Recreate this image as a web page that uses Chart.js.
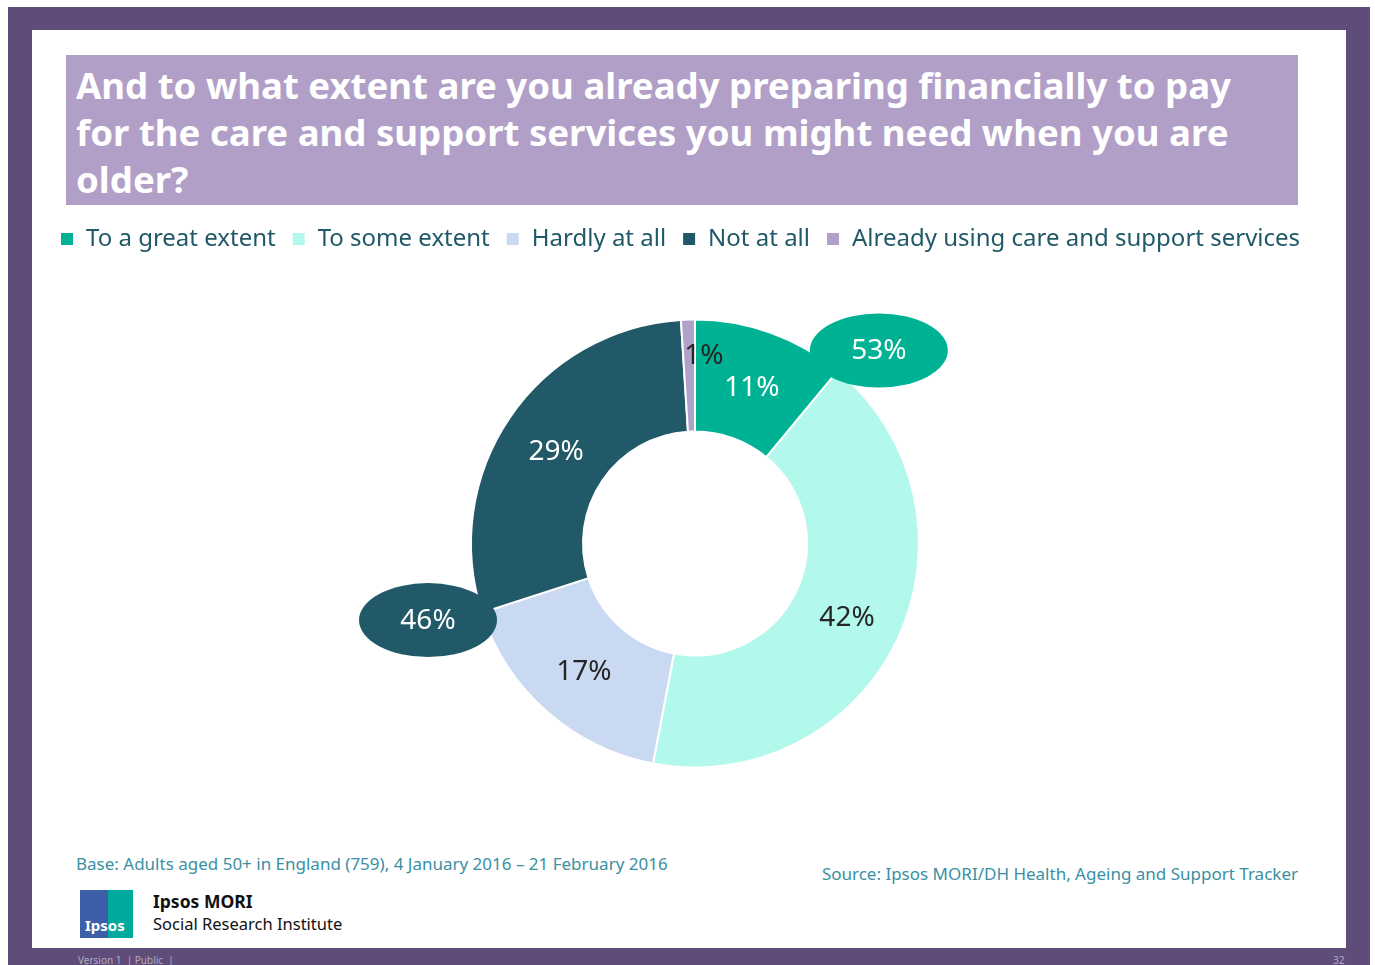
<!DOCTYPE html>
<html>
<head>
<meta charset="utf-8">
<script src="https://cdn.jsdelivr.net/npm/chart.js@4"></script>
<style>
  html, body { margin: 0; padding: 0; background: #fff; }
  body { width: 1375px; height: 965px; position: relative; overflow: hidden; font-family: "Noto Sans", "Open Sans", sans-serif; }
  #frame { position: absolute; left: 8px; top: 7px; width: 1362px; height: 958px; background: #604c78; }
  #page { position: absolute; left: 32px; top: 30px; width: 1314px; height: 918px; background: #fff; }
  #title { position: absolute; left: 66px; top: 55px; width: 1232px; height: 150px; background: #b19fc8;
           color: #fff; font-weight: bold; font-size: 36.6px; line-height: 47px; padding: 7px 0 0 10px; box-sizing: border-box; white-space: nowrap; }
  #chartWrap { position: absolute; left: 32px; top: 211px; width: 1314px; height: 615px; }
  .note { position: absolute; color: #3a8fa3; font-size: 17px; white-space: nowrap; }
  #logo { position: absolute; left: 80px; top: 890px; width: 53px; height: 48px; overflow: hidden; }
  #logo .l { position: absolute; left: 0; top: 0; width: 28px; height: 48px; background: #3d5ea8; }
  #logo .r { position: absolute; left: 28px; top: 0; width: 25px; height: 48px; background: #00a99d; }
  #logo span { position: absolute; left: 5px; bottom: 3px; color: #fff; font-weight: bold; font-size: 15px; }
  .brand { position: absolute; left: 153px; color: #111; white-space: nowrap; }
  .tiny { position: absolute; top: 953px; color: #b4aac4; font-size: 10px; }
</style>
</head>
<body>
<div id="frame"></div>
<div id="page"></div>
<div id="title">And to what extent are you already preparing financially to pay<br>for the care and support services you might need when you are<br>older?</div>
<div id="chartWrap"><canvas id="donut"></canvas></div>
<div class="note" style="left:76px; top:852px;">Base: Adults aged 50+ in England (759), 4 January 2016 – 21 February 2016</div>
<div class="note" style="right:77px; top:862px;">Source: Ipsos MORI/DH Health, Ageing and Support Tracker</div>
<div id="logo"><div class="l"></div><div class="r"></div><span>Ipsos</span></div>
<div class="brand" style="top:889px; font-size:17.5px; font-weight:bold;">Ipsos MORI</div>
<div class="brand" style="top:912px; font-size:16.5px;">Social Research Institute</div>
<div class="tiny" style="left:78px;">Version 1 &nbsp;| Public &nbsp;|</div>
<div class="tiny" style="left:1333px;">32</div>

<script>
// answers, shares (%) and slice colours
const categories = ['To a great extent', 'To some extent', 'Hardly at all', 'Not at all', 'Already using care and support services'];
const shares = [11, 42, 17, 29, 1];
const sliceColors = ['#00b294', '#b3f8ec', '#c8d9f1', '#215968', '#b1a0c7'];
const labelColors = ['#ffffff', '#262626', '#262626', '#ffffff', '#262626'];

// combined bubbles: which slices are summed and where the bubble sits
const groups = [
  { members: [0, 1], color: '#00b294', angleShift: 4, dist: 1.19 },
  { members: [2, 3], color: '#215968', angleShift: 2, dist: 1.24 }
];

// per-slice label tweaks (radius factor, extra angle in degrees)
const labelTweaks = [{}, {}, {}, {}, { r: 0.85, da: 4.5 }];

const valueLabels = {
  id: 'valueLabels',
  afterDatasetsDraw(chart) {
    const ctx = chart.ctx;
    const arcs = chart.getDatasetMeta(0).data;
    const cx = arcs[0].x, cy = arcs[0].y;
    const outer = arcs[0].outerRadius, inner = arcs[0].innerRadius;
    const dy = 3; // Noto Sans sits a little high with 'middle'
    ctx.save();
    ctx.textAlign = 'center';
    ctx.textBaseline = 'middle';
    ctx.font = '28px "Noto Sans", sans-serif';

    // slice percentages
    arcs.forEach((arc, i) => {
      const t = labelTweaks[i];
      const mid = (arc.startAngle + arc.endAngle) / 2 + (t.da || 0) * Math.PI / 180;
      const r = t.r ? outer * t.r : (outer + inner) / 2;
      ctx.fillStyle = labelColors[i];
      ctx.fillText(shares[i] + '%', cx + r * Math.cos(mid), cy + r * Math.sin(mid) + dy);
    });

    // bubbles with the combined totals, placed past the edge between the grouped slices
    groups.forEach(g => {
      const ang = arcs[g.members[0]].endAngle + g.angleShift * Math.PI / 180;
      const bx = cx + outer * g.dist * Math.cos(ang);
      const by = cy + outer * g.dist * Math.sin(ang);
      const total = g.members.reduce((s, k) => s + shares[k], 0);
      ctx.fillStyle = g.color;
      ctx.beginPath();
      ctx.ellipse(bx, by, 69, 37, 0, 0, Math.PI * 2);
      ctx.fill();
      ctx.fillStyle = '#ffffff';
      ctx.fillText(total + '%', bx, by + 1);
    });
    ctx.restore();
  }
};

const ctx = document.getElementById('donut').getContext('2d');
const donut = new Chart(ctx, {
  type: 'doughnut',
  data: {
    labels: categories,
    datasets: [{
      data: shares,
      backgroundColor: sliceColors,
      borderColor: '#ffffff',
      borderWidth: 2,
      radius: 224,
      cutout: '50%'
    }]
  },
  options: {
    responsive: true,
    maintainAspectRatio: false,
    animation: false,
    layout: { padding: { left: 12 } },
    plugins: {
      legend: {
        position: 'top',
        align: 'start',
        labels: {
          boxWidth: 14,
          boxHeight: 14,
          padding: 16,
          color: '#215968',
          font: { family: '"Noto Sans", sans-serif', size: 24 }
        }
      },
      tooltip: { enabled: false }
    }
  },
  plugins: [valueLabels]
});
</script>
</body>
</html>
